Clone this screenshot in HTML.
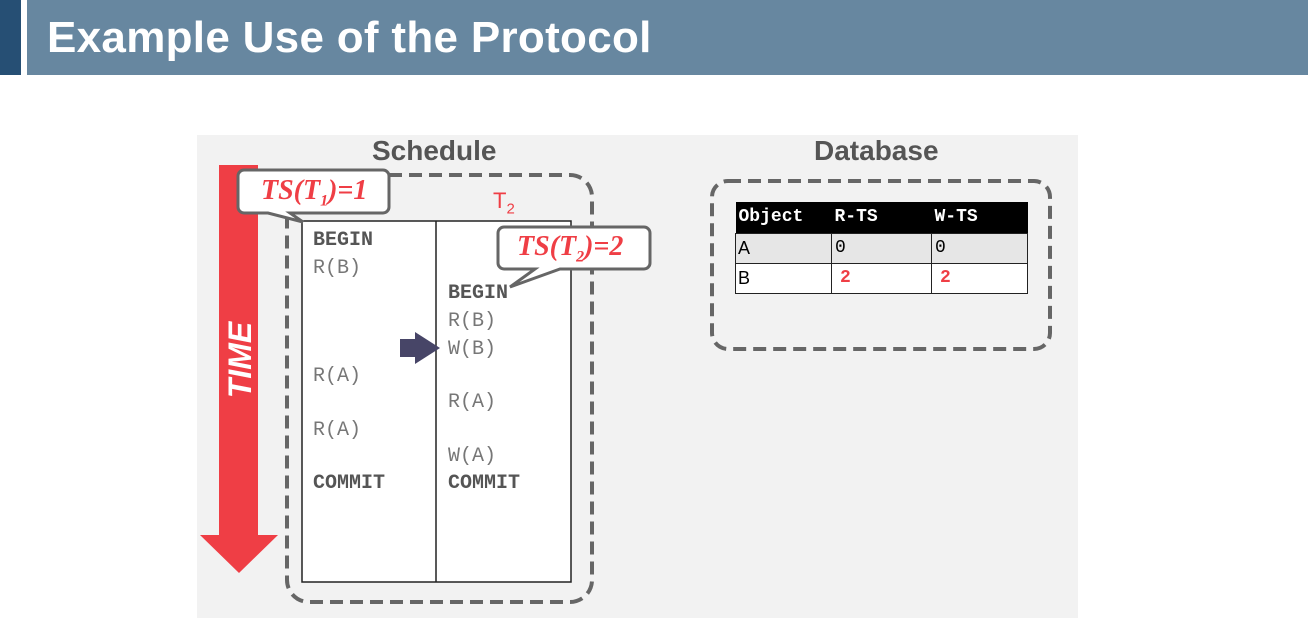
<!DOCTYPE html>
<html><head><meta charset="utf-8"><style>
body{margin:0;width:1308px;height:638px;background:#fff;overflow:hidden;position:relative;font-family:"Liberation Sans",sans-serif}
.a{position:absolute}
.m{font-family:"Liberation Mono","DejaVu Sans Mono",monospace;font-size:20px;color:#777;position:absolute;line-height:20px}
.b{font-weight:bold;color:#555}
</style></head><body>
<div class="a" style="left:0;top:0;width:21px;height:75px;background:#264f74"></div>
<div class="a" style="left:27px;top:0;width:1281px;height:75px;background:#6787a0"></div>
<div class="a" style="left:47px;top:13px;font-size:44px;font-weight:bold;color:#fff;line-height:50px;letter-spacing:0.3px">Example Use of the Protocol</div>
<div class="a" style="left:197px;top:135px;width:881px;height:483px;background:#f2f2f2"></div>
<svg class="a" style="left:0;top:0" width="1308" height="638">
<rect x="287" y="175" width="305" height="427" rx="22" fill="none" stroke="#666" stroke-width="4" stroke-dasharray="13,7"/>
<rect x="712" y="181" width="338" height="168" rx="16" fill="none" stroke="#666" stroke-width="4" stroke-dasharray="13,7"/>
<rect x="302" y="221" width="269" height="361" fill="#fff" stroke="#222" stroke-width="1.5"/>
<line x1="436" y1="221" x2="436" y2="582" stroke="#222" stroke-width="1.5"/>
<rect x="219" y="165" width="39" height="372" fill="#ef3e45"/>
<polygon points="200,535 278,535 239,573" fill="#ef3e45"/>
<text x="0" y="0" transform="translate(251,360) rotate(-90)" text-anchor="middle" font-family="Liberation Sans" font-weight="bold" font-style="italic" font-size="32" fill="#fff">TIME</text>
<polygon points="400,339 415,339 415,332 440,348 415,364 415,357 400,357" fill="#474567"/>
<path d="M244,170 H383 a6,6 0 0 1 6,6 V207 a6,6 0 0 1 -6,6 H290 L303,222 L268,213 H244 a6,6 0 0 1 -6,-6 V176 a6,6 0 0 1 6,-6Z" fill="#fff" stroke="#666" stroke-width="3"/>
<path d="M504,227 H644 a6,6 0 0 1 6,6 V263 a6,6 0 0 1 -6,6 H560 L510,287 L535,269 H504 a6,6 0 0 1 -6,-6 V233 a6,6 0 0 1 6,-6Z" fill="#fff" stroke="#666" stroke-width="3"/>
</svg>
<div class="a" style="left:261px;top:175px;font-family:'Liberation Serif',serif;font-style:italic;font-weight:bold;font-size:28px;color:#ef3e45">TS(T<sub style="font-size:16px">1</sub>)=1</div>
<div class="a" style="left:517px;top:231px;font-family:'Liberation Serif',serif;font-style:italic;font-weight:bold;font-size:28px;color:#ef3e45">TS(T<sub style="font-size:16px">2</sub>)=2</div>
<div class="a" style="left:493px;top:188px;font-size:22px;color:#ef3e45">T<sub style="font-size:15px">2</sub></div>
<div class="a" style="left:372px;top:135px;font-size:28px;font-weight:bold;color:#555">Schedule</div>
<div class="a" style="left:814px;top:135px;font-size:28px;font-weight:bold;color:#555">Database</div>
<div class="m b" style="left:313px;top:231px">BEGIN</div>
<div class="m" style="left:313px;top:259px">R(B)</div>
<div class="m b" style="left:448px;top:284px">BEGIN</div>
<div class="m" style="left:448px;top:312px">R(B)</div>
<div class="m" style="left:448px;top:340px">W(B)</div>
<div class="m" style="left:313px;top:367px">R(A)</div>
<div class="m" style="left:448px;top:393px">R(A)</div>
<div class="m" style="left:313px;top:421px">R(A)</div>
<div class="m" style="left:448px;top:447px">W(A)</div>
<div class="m b" style="left:313px;top:474px">COMMIT</div>
<div class="m b" style="left:448px;top:474px">COMMIT</div>
<table class="a" style="left:735px;top:202px;width:293px;border-collapse:collapse;font-family:'Liberation Mono','DejaVu Sans Mono',monospace;font-size:18px">
<tr style="background:#000;color:#fff;font-weight:bold;height:31px"><td style="padding-left:3px;width:92px">Object</td><td style="width:96px;padding-left:3px">R-TS</td><td style="padding-left:3px">W-TS</td></tr>
<tr style="background:#e6e6e6;height:30px"><td style="border:1.5px solid #222;padding-left:2px;font-family:'Liberation Sans',sans-serif">A</td><td style="border:1.5px solid #222;padding-left:3px">0</td><td style="border:1.5px solid #222;padding-left:3px">0</td></tr>
<tr style="background:#fff;height:30px"><td style="border:1.5px solid #222;padding-left:2px;font-family:'Liberation Sans',sans-serif">B</td><td style="border:1.5px solid #222;padding-left:8px;color:#ef3e45;font-weight:bold">2</td><td style="border:1.5px solid #222;padding-left:8px;color:#ef3e45;font-weight:bold">2</td></tr>
</table>
</body></html>
